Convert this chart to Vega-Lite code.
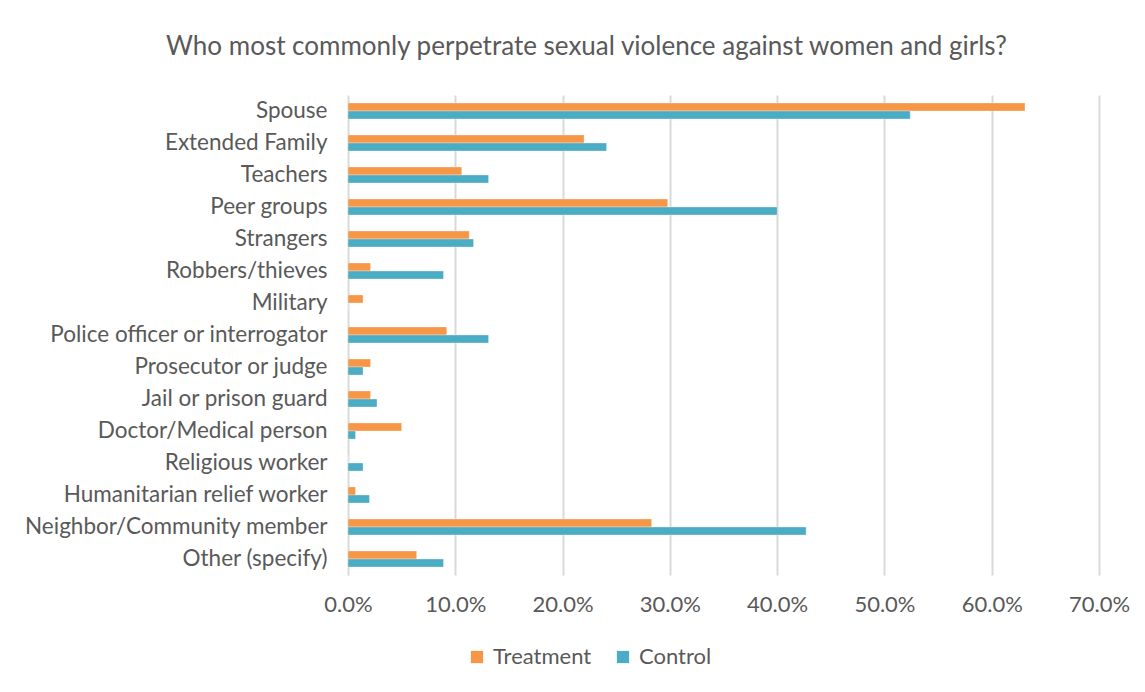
{
  "$schema": "https://vega.github.io/schema/vega-lite/v6.json",
  "width": 751,
  "height": 480,
  "autosize": {"type": "none"},
  "padding": {"left": 348, "top": 95, "right": 46, "bottom": 117},
  "background": "white",
  "title": {
    "text": "Who most commonly perpetrate sexual violence against women and girls?",
    "anchor": "middle",
    "dx": -137,
    "offset": 35,
    "font": "Lato",
    "fontSize": 26,
    "fontWeight": "normal",
    "color": "#595959"
  },
  "data": {
    "values": [
      {"cat": "Spouse", "group": "Treatment", "v": 0.631},
      {"cat": "Spouse", "group": "Control", "v": 0.524},
      {"cat": "Extended Family", "group": "Treatment", "v": 0.220},
      {"cat": "Extended Family", "group": "Control", "v": 0.241},
      {"cat": "Teachers", "group": "Treatment", "v": 0.106},
      {"cat": "Teachers", "group": "Control", "v": 0.131},
      {"cat": "Peer groups", "group": "Treatment", "v": 0.298},
      {"cat": "Peer groups", "group": "Control", "v": 0.400},
      {"cat": "Strangers", "group": "Treatment", "v": 0.113},
      {"cat": "Strangers", "group": "Control", "v": 0.117},
      {"cat": "Robbers/thieves", "group": "Treatment", "v": 0.021},
      {"cat": "Robbers/thieves", "group": "Control", "v": 0.089},
      {"cat": "Military", "group": "Treatment", "v": 0.014},
      {"cat": "Military", "group": "Control", "v": 0.0},
      {"cat": "Police officer or interrogator", "group": "Treatment", "v": 0.092},
      {"cat": "Police officer or interrogator", "group": "Control", "v": 0.131},
      {"cat": "Prosecutor or judge", "group": "Treatment", "v": 0.021},
      {"cat": "Prosecutor or judge", "group": "Control", "v": 0.014},
      {"cat": "Jail or prison guard", "group": "Treatment", "v": 0.021},
      {"cat": "Jail or prison guard", "group": "Control", "v": 0.027},
      {"cat": "Doctor/Medical person", "group": "Treatment", "v": 0.050},
      {"cat": "Doctor/Medical person", "group": "Control", "v": 0.007},
      {"cat": "Religious worker", "group": "Treatment", "v": 0.0},
      {"cat": "Religious worker", "group": "Control", "v": 0.014},
      {"cat": "Humanitarian relief worker", "group": "Treatment", "v": 0.007},
      {"cat": "Humanitarian relief worker", "group": "Control", "v": 0.020},
      {"cat": "Neighbor/Community member", "group": "Treatment", "v": 0.283},
      {"cat": "Neighbor/Community member", "group": "Control", "v": 0.427},
      {"cat": "Other (specify)", "group": "Treatment", "v": 0.064},
      {"cat": "Other (specify)", "group": "Control", "v": 0.089}
    ]
  },
  "mark": {"type": "bar", "stroke": "white", "strokeWidth": 0.5, "strokeOpacity": 0.6},
  "encoding": {
    "y": {
      "field": "cat",
      "type": "nominal",
      "sort": null,
      "scale": {"paddingInner": 0.5, "paddingOuter": 0.25},
      "axis": {
        "title": null,
        "domain": false,
        "ticks": false,
        "labelPadding": 21,
        "labelFont": "Lato",
        "labelFontSize": 22.5,
        "labelColor": "#595959",
        "labelLimit": 400
      }
    },
    "yOffset": {
      "field": "group",
      "type": "nominal",
      "sort": ["Treatment", "Control"],
      "scale": {"paddingInner": 0, "paddingOuter": 0}
    },
    "x": {
      "field": "v",
      "type": "quantitative",
      "scale": {"domain": [0, 0.7], "nice": false},
      "axis": {
        "title": null,
        "format": ".1%",
        "values": [0, 0.1, 0.2, 0.3, 0.4, 0.5, 0.6, 0.7],
        "domain": false,
        "ticks": false,
        "grid": true,
        "gridColor": "#d9d9d9",
        "gridWidth": 2,
        "labelFlush": false,
        "labelPadding": 19,
        "labelFont": "Lato",
        "labelFontSize": 22,
        "labelColor": "#595959"
      }
    },
    "color": {
      "field": "group",
      "type": "nominal",
      "sort": ["Treatment", "Control"],
      "scale": {"domain": ["Treatment", "Control"], "range": ["#F79646", "#4BACC6"]},
      "legend": {
        "title": null,
        "orient": "none",
        "direction": "horizontal",
        "legendX": 118,
        "legendY": 551,
        "symbolType": "square",
        "symbolSize": 150,
        "symbolStrokeWidth": 0,
        "columnPadding": 20,
        "labelFont": "Lato",
        "labelFontSize": 22,
        "labelColor": "#595959",
        "labelOffset": 5
      }
    }
  },
  "config": {"view": {"stroke": null}}
}
